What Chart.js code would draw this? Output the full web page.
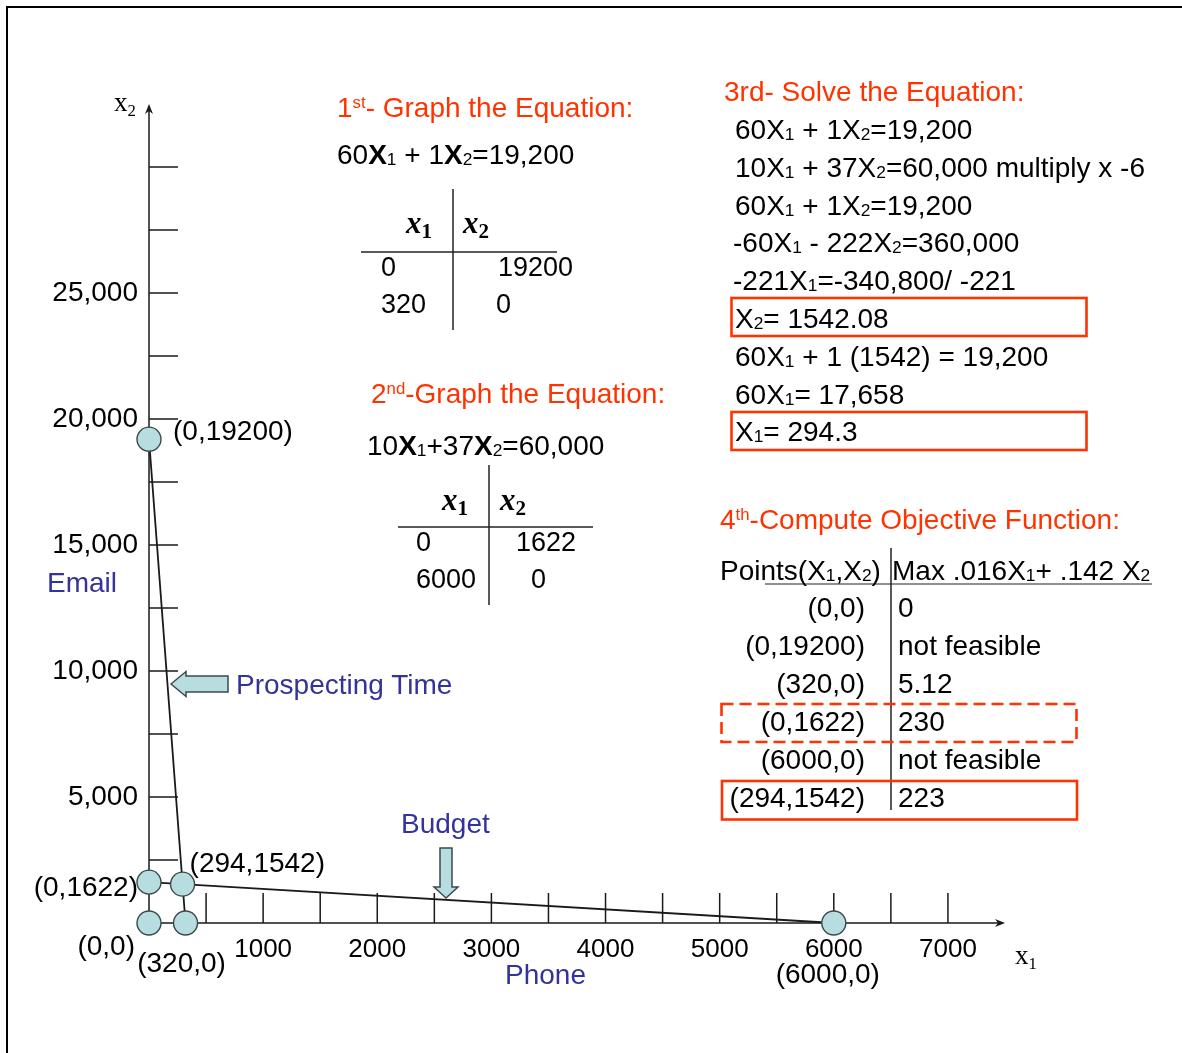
<!DOCTYPE html>
<html>
<head>
<meta charset="utf-8">
<script src="https://cdn.jsdelivr.net/npm/chart.js@4.4.0/dist/chart.umd.min.js"></script>
<style>
html,body{margin:0;padding:0;background:#fff;}
#wrap{position:relative;width:1182px;height:1053px;overflow:hidden;font-family:"Liberation Sans",Arial,sans-serif;background:#fff;}
#c{position:absolute;left:0;top:0;}
.t{position:absolute;white-space:nowrap;line-height:1;transform:translateY(-50%);font-size:28px;color:#000;}
.r{transform:translate(-100%,-50%);}
.v{font-size:27px;}
.red{color:#ff3300;}
.blue{color:#333399;}
sub{font-size:0.62em;vertical-align:-0.08em;line-height:0;}
sup{font-size:0.6em;vertical-align:0.55em;line-height:0;}
b{font-weight:bold;}
.hx{font-family:"Liberation Serif","Times New Roman",serif;font-weight:bold;font-style:italic;font-size:31px;}
.hx sub{font-style:normal;font-size:0.68em;vertical-align:-0.28em;}
.ax{font-family:"Liberation Serif","Times New Roman",serif;font-size:27px;}
.ax sub{font-size:0.62em;vertical-align:-0.3em;}
#frame{position:absolute;left:6px;top:6px;width:1200px;height:1100px;border-top:2px solid #000;border-left:2px solid #000;}
svg{position:absolute;left:0;top:0;}
</style>
</head>
<body>
<div id="wrap">
<div id="frame"></div>
<canvas id="c" width="1182" height="1053"></canvas>

<svg width="1182" height="1053" viewBox="0 0 1182 1053">
  <g stroke="#222" stroke-width="1.5">
    <line x1="453" y1="189" x2="453" y2="330"/>
    <line x1="361" y1="252" x2="557" y2="252"/>
    <line x1="489" y1="465" x2="489" y2="605"/>
    <line x1="398" y1="527" x2="593" y2="527"/>
    <line x1="891" y1="548" x2="891" y2="810"/>
    <line x1="765" y1="584" x2="1152" y2="584" stroke-width="1.2"/>
  </g>
  <g fill="none" stroke="#ff3300" stroke-width="2.6">
    <rect x="731.5" y="298" width="355" height="38"/>
    <rect x="731.5" y="412" width="355" height="38"/>
    <rect x="721.5" y="704" width="355" height="38" stroke-dasharray="12 6"/>
    <rect x="722" y="781" width="355" height="38.5"/>
  </g>
  <g fill="#b7dde1" stroke="#3c4a4a" stroke-width="1.5">
    <polygon points="171,684 186,671.5 186,676 228,676 228,692 186,692 186,696.5"/>
    <polygon points="446,898 434,887 440,887 440,848 452,848 452,887 458,887"/>
  </g>
</svg>

<div class="t ax" style="left:114px;top:102px;">x<sub>2</sub></div>
<div class="t ax" style="left:1015px;top:955px;">x<sub>1</sub></div>

<div class="t red" style="left:337px;top:108px;">1<sup>st</sup>- Graph the Equation:</div>
<div class="t" style="left:337px;top:155px;">60<b>X</b><sub>1</sub> + 1<b>X</b><sub>2</sub>=19,200</div>
<div class="t hx" style="left:406px;top:222px;">x<sub>1</sub></div>
<div class="t hx" style="left:463px;top:222px;">x<sub>2</sub></div>
<div class="t v" style="left:381px;top:267px;">0</div>
<div class="t v" style="left:498px;top:267px;">19200</div>
<div class="t v" style="left:381px;top:304px;">320</div>
<div class="t v" style="left:496px;top:304px;">0</div>

<div class="t red" style="left:371px;top:394px;">2<sup>nd</sup>-Graph the Equation:</div>
<div class="t" style="left:367px;top:446px;">10<b>X</b><sub>1</sub>+37<b>X</b><sub>2</sub>=60,000</div>
<div class="t hx" style="left:442px;top:499px;">x<sub>1</sub></div>
<div class="t hx" style="left:500px;top:499px;">x<sub>2</sub></div>
<div class="t v" style="left:416px;top:542px;">0</div>
<div class="t v" style="left:516px;top:542px;">1622</div>
<div class="t v" style="left:416px;top:579px;">6000</div>
<div class="t v" style="left:531px;top:579px;">0</div>

<div id="solve"></div>

<div class="t red" style="left:720px;top:520px;">4<sup>th</sup>-Compute Objective Function:</div>
<div class="t" style="left:720px;top:571px;">Points(X<sub>1</sub>,X<sub>2</sub>)</div>
<div class="t" style="left:892px;top:571px;">Max .016X<sub>1</sub>+ .142 X<sub>2</sub></div>
<div id="obj"></div>

<div class="t blue" style="left:47px;top:583px;">Email</div>
<div class="t blue" style="left:236px;top:685px;">Prospecting Time</div>
<div class="t blue" style="left:401px;top:824px;">Budget</div>
<div class="t blue" style="left:505px;top:975px;">Phone</div>
</div>

<script>
// ---- data ----
const prospectX = [0, 320];
const prospectY = [19200, 0];
const budgetX = [0, 6000];
const budgetY = [1622, 0];
const cornerX = [0, 0, 294, 0, 320, 6000];
const cornerY = [19200, 1622, 1542, 0, 0, 0];
const xLabeledTicks = [1000, 2000, 3000, 4000, 5000, 6000, 7000];
const yLabeledTicks = [5000, 10000, 15000, 20000, 25000];
const xAxisMax = 7500;
const yAxisMax = 32500;
const xTickStep = 500;
const yTickStep = 2500;

const solveLines = [
  '60X<sub>1</sub> + 1X<sub>2</sub>=19,200',
  '10X<sub>1</sub> + 37X<sub>2</sub>=60,000 multiply x -6',
  '60X<sub>1</sub> + 1X<sub>2</sub>=19,200',
  '-60X<sub>1</sub> - 222X<sub>2</sub>=360,000',
  '-221X<sub>1</sub>=-340,800/ -221',
  'X<sub>2</sub>= 1542.08',
  '60X<sub>1</sub> + 1 (1542) = 19,200',
  '60X<sub>1</sub>= 17,658',
  'X<sub>1</sub>= 294.3'
];
const objPoints = ['(0,0)', '(0,19200)', '(320,0)', '(0,1622)', '(6000,0)', '(294,1542)'];
const objValues = ['0', 'not feasible', '5.12', '230', 'not feasible', '223'];

(function(){
  const s = document.getElementById('solve');
  let h = '<div class="t red" style="left:724px;top:92px;">3rd- Solve the Equation:</div>';
  solveLines.forEach((l, i) => {
    const top = 130 + i * 37.8;
    const left = l.charAt(0) === '-' ? 733 : 735;
    h += '<div class="t" style="left:' + left + 'px;top:' + top + 'px;">' + l + '</div>';
  });
  s.innerHTML = h;
  const o = document.getElementById('obj');
  let g = '';
  objPoints.forEach((p, i) => {
    const top = 608 + i * 38;
    g += '<div class="t r" style="left:865px;top:' + top + 'px;">' + p + '</div>';
    g += '<div class="t" style="left:898px;top:' + top + 'px;">' + objValues[i] + '</div>';
  });
  o.innerHTML = g;
})();

const cornerLabelPlace = [
  {dx: 24, dy: -7, align: 'left'},
  {dx: -11, dy: 6, align: 'right'},
  {dx: 7, dy: -20, align: 'left'},
  {dx: -14, dy: 24, align: 'right'},
  {dx: -4, dy: 41, align: 'center'},
  {dx: -6, dy: 52, align: 'center'}
];

const TICK_LEN = 30;
const axisPlugin = {
  id: 'axisMarks',
  beforeDatasetsDraw(chart) {
    const {ctx, scales: {x, y}} = chart;
    const x0 = x.getPixelForValue(0), y0 = y.getPixelForValue(0);
    const xEnd = x.getPixelForValue(xAxisMax), yEnd = y.getPixelForValue(yAxisMax);
    ctx.save();
    ctx.strokeStyle = '#1a1a1a';
    ctx.fillStyle = '#1a1a1a';
    ctx.lineWidth = 1.5;
    ctx.beginPath();
    ctx.moveTo(x0, y0); ctx.lineTo(x0, yEnd + 2);
    ctx.moveTo(x0, y0); ctx.lineTo(xEnd - 2, y0);
    x.ticks.forEach(t => {
      if (t.value > 0 && t.value < xAxisMax) {
        const px = x.getPixelForValue(t.value);
        ctx.moveTo(px, y0); ctx.lineTo(px, y0 - TICK_LEN);
      }
    });
    y.ticks.forEach(t => {
      if (t.value > 0 && t.value < yAxisMax) {
        const py = y.getPixelForValue(t.value);
        ctx.moveTo(x0, py); ctx.lineTo(x0 + TICK_LEN - 1, py);
      }
    });
    ctx.stroke();
    ctx.beginPath();
    ctx.moveTo(x0, yEnd); ctx.lineTo(x0 - 4, yEnd + 10); ctx.lineTo(x0, yEnd + 7); ctx.lineTo(x0 + 4, yEnd + 10); ctx.closePath();
    ctx.moveTo(xEnd, y0); ctx.lineTo(xEnd - 10, y0 - 4); ctx.lineTo(xEnd - 7, y0); ctx.lineTo(xEnd - 10, y0 + 4); ctx.closePath();
    ctx.fill();
    ctx.restore();
  },
  afterDatasetsDraw(chart) {
    const {ctx, scales: {x, y}} = chart;
    ctx.save();
    ctx.font = '28px "Liberation Sans", Arial, sans-serif';
    ctx.fillStyle = '#000';
    ctx.textBaseline = 'middle';
    cornerX.forEach((vx, i) => {
      const vy = cornerY[i];
      const p = cornerLabelPlace[i];
      ctx.textAlign = p.align;
      ctx.fillText('(' + vx + ',' + vy + ')', x.getPixelForValue(vx) + p.dx, y.getPixelForValue(vy) + p.dy);
    });
    ctx.restore();
  }
};

const toPts = (xs, ys) => xs.map((v, i) => ({x: v, y: ys[i]}));

new Chart(document.getElementById('c'), {
  type: 'scatter',
  data: {
    datasets: [
      {label: 'Prospecting Time', data: toPts(prospectX, prospectY), showLine: true, borderColor: '#1a1a1a', borderWidth: 1.8, pointRadius: 0, order: 2, clip: false},
      {label: 'Budget', data: toPts(budgetX, budgetY), showLine: true, borderColor: '#1a1a1a', borderWidth: 1.8, pointRadius: 0, order: 2, clip: false},
      {label: 'Corner points', data: toPts(cornerX, cornerY), showLine: false, pointRadius: 12, pointHoverRadius: 12,
        pointBackgroundColor: '#b7dde1', pointBorderColor: '#3c4a4a', pointBorderWidth: 1.4, order: 1, clip: false}
    ]
  },
  options: {
    responsive: false,
    animation: false,
    devicePixelRatio: 1,
    layout: {padding: {left: 0, top: 104, right: 177, bottom: 0}},
    plugins: {legend: {display: false}, tooltip: {enabled: false}},
    scales: {
      x: {
        type: 'linear', min: 0, max: xAxisMax,
        grid: {display: false, drawTicks: false},
        border: {display: false},
        afterFit(s) { s.height = 130; },
        ticks: {
          stepSize: xTickStep, autoSkip: false, maxRotation: 0, padding: 11,
          color: '#000', font: {family: '"Liberation Sans", Arial, sans-serif', size: 26},
          callback: v => xLabeledTicks.includes(v) ? String(v) : ''
        }
      },
      y: {
        type: 'linear', min: 0, max: yAxisMax,
        grid: {display: false, drawTicks: false},
        border: {display: false},
        afterFit(s) { s.width = 149; },
        ticks: {
          stepSize: yTickStep, autoSkip: false, padding: 11,
          color: '#000', font: {family: '"Liberation Sans", Arial, sans-serif', size: 28},
          callback: v => yLabeledTicks.includes(v) ? v.toLocaleString('en-US') : ''
        }
      }
    }
  },
  plugins: [axisPlugin]
});
</script>
</body>
</html>
